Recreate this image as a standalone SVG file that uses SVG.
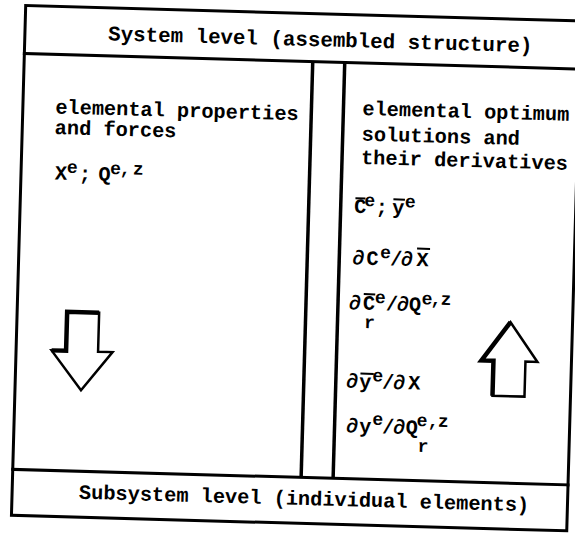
<svg xmlns="http://www.w3.org/2000/svg" width="575" height="534" viewBox="0 0 575 534">
<style>
.t{font-family:"Liberation Mono","DejaVu Sans Mono",monospace;font-weight:bold;font-size:20.3px;fill:#000}
.h{font-size:20.8px}
.sup{font-size:18px}
.ln{stroke:#000;stroke-width:3;fill:none;stroke-linecap:square}
.dv{stroke:#000;stroke-width:3.5;fill:none}
.bar{stroke:#000;stroke-width:2}
.arrow{fill:#fff;stroke:#000;stroke-width:2.5;stroke-linejoin:miter}
.shade{fill:none;stroke:#000;stroke-width:4.5;stroke-linejoin:miter}
</style>
<rect width="575" height="534" fill="#fff"/>
<g transform="rotate(1.6 290 267)">
  <g id="system-level">
    <rect class="ln" x="18.5" y="13" width="555.5" height="48"/>
    <text class="t h" x="314" y="45.5" text-anchor="middle">System level (assembled structure)</text>
  </g>
  <g id="subsystem-level">
    <rect class="ln" x="18.5" y="477" width="555.5" height="46"/>
    <text class="t" x="310.6" y="504.5" text-anchor="middle">Subsystem level (individual elements)</text>
  </g>
  <g id="left-panel">
    <line class="ln" x1="18.5" y1="61" x2="18.5" y2="477"/>
    <line class="dv" x1="307" y1="61" x2="307" y2="477"/>
    <text class="t" x="51" y="120">elemental properties</text>
    <text class="t" x="51" y="140.6">and forces</text>
    <text class="t"><tspan x="52.3" y="186">X</tspan><tspan class="sup" x="64.2" y="179">e</tspan><tspan x="76.5" y="186">;</tspan><tspan x="95.9" y="186">Q</tspan><tspan class="sup" x="107.6 117.2 130.2" y="179">e,z</tspan></text>
  </g>
  <g id="right-panel">
    <line class="dv" x1="339" y1="61" x2="339" y2="477"/>
    <line class="ln" x1="574" y1="61" x2="574" y2="477"/>
    <text class="t" x="358" y="113">elemental optimum</text>
    <text class="t" x="358" y="138.6">solutions and</text>
    <text class="t" x="358" y="162">their derivatives</text>
    <text class="t"><tspan x="352.4" y="211">C</tspan><tspan class="sup" x="362.6" y="204">e</tspan><tspan x="373.9" y="211">;</tspan><tspan x="390.4" y="211">y</tspan><tspan class="sup" x="403.1" y="204">e</tspan></text>
    <line class="bar" x1="353.5" y1="196.5" x2="363.5" y2="196.5"/>
    <line class="bar" x1="391.5" y1="196.5" x2="403" y2="196.5"/>
    <text class="t"><tspan x="352.2" y="262.5">∂</tspan><tspan x="366.2" y="262.5">C</tspan><tspan class="sup" x="379.6" y="255.5">e</tspan><tspan x="389.9 400.6 416.2" y="262.5">/∂X</tspan></text>
    <line class="bar" x1="416.5" y1="245" x2="429.5" y2="245"/>
    <text class="t"><tspan x="349.9 363.9" y="307.5">∂C</tspan><tspan class="sup" x="375.6" y="300.5">e</tspan><tspan x="386.9 397.9 409.9" y="307.5">/∂Q</tspan><tspan class="sup" x="422.6 431.6 441.6" y="300.5">e,z</tspan><tspan class="sup" x="365.6" y="326">r</tspan></text>
    <line class="bar" x1="364.5" y1="292" x2="376" y2="292"/>
    <text class="t"><tspan x="349.3 362.3" y="386">∂y</tspan><tspan class="sup" x="375.5" y="379">e</tspan><tspan x="385.3 396.3 411.3" y="386">/∂X</tspan></text>
    <line class="bar" x1="363.4" y1="371.5" x2="376.7" y2="371.5"/>
    <text class="t"><tspan x="350.5 363.5" y="430.5">∂y</tspan><tspan class="sup" x="376.6" y="422.5">e</tspan><tspan x="386.5 397.5 410.2" y="430.5">/∂Q</tspan><tspan class="sup" x="420.9 432.2 442.2" y="422.5">e,z</tspan><tspan class="sup" x="422.6" y="448">r</tspan></text>
  </g>
  <g id="connectors">
    <g id="arrow-down">
      <polygon class="arrow" points="68.5,318 100.5,318 100.5,357 115,357 84.5,396 54,357 68.5,357"/>
      <polyline class="shade" points="54,357 68.5,357 68.5,318 100.5,318"/>
    </g>
    <g id="arrow-up">
      <polygon class="arrow" points="512,316 540,355 528,355 528,390 496,390 496,355 484,355"/>
      <polyline class="shade" points="496,390 496,355 484,355 512,316"/>
    </g>
  </g>
</g>
</svg>
